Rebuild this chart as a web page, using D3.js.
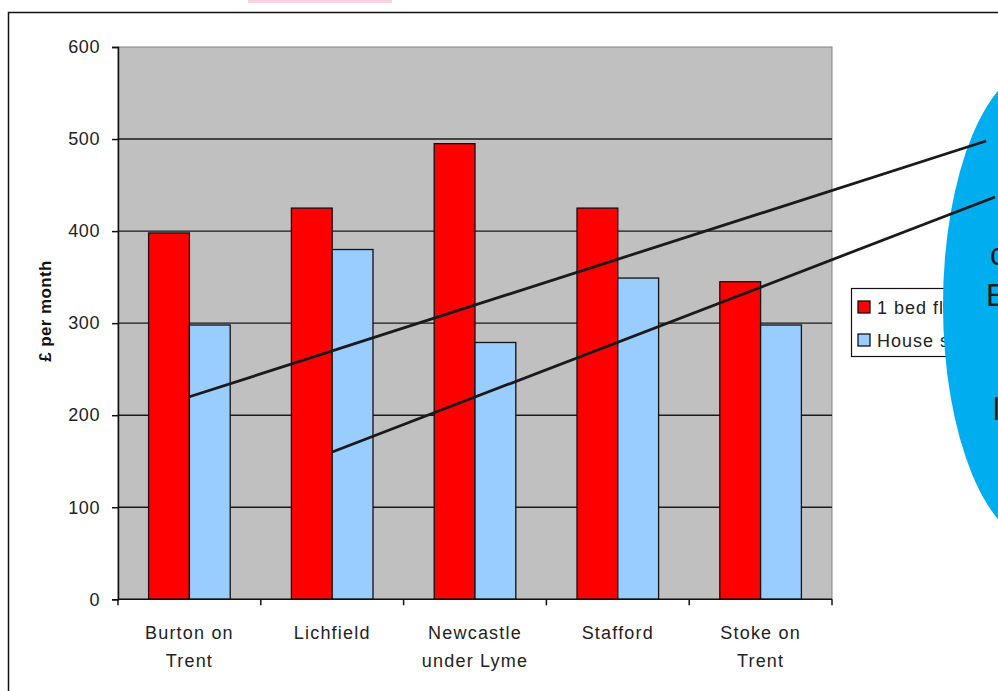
<!DOCTYPE html>
<html>
<head>
<meta charset="utf-8">
<script src="https://cdn.jsdelivr.net/npm/d3@7"></script>
<style>
  body { margin: 0; background: #fff; }
  svg { display: block; font-family: "Liberation Sans", Arial, sans-serif; }
</style>
</head>
<body>
<svg id="chart" width="998" height="691"></svg>
<script>
// data
const towns = ["Burton on Trent", "Lichfield", "Newcastle under Lyme", "Stafford", "Stoke on Trent"];
const townLabels = [["Burton on", "Trent"], ["Lichfield"], ["Newcastle", "under Lyme"], ["Stafford"], ["Stoke on", "Trent"]];
const seriesNames = ["1 bed flat", "House share"];
const flatRent = [398, 425, 495, 425, 345];
const houseShare = [298, 380, 279, 349, 298];
const yTicks = [0, 100, 200, 300, 400, 500, 600];
const colours = ["#ff0000", "#99ccff"];
// callout lines start on a bar (town, value), end inside the bubble
const callouts = [
  { town: "Burton on Trent", value: 220, end: [986, 141] },
  { town: "Lichfield", value: 160, end: [995, 197] }
];
const bubbleLetters = [
  { t: "c", x: 990, y: 265 },
  { t: "E", x: 986, y: 306 },
  { t: "l", x: 993, y: 420 }
];

const svg = d3.select("#chart");
const plot = { left: 118, right: 832, top: 47, bottom: 599.3 };

// pink strip at top
svg.append("rect").attr("x", 248).attr("y", 0).attr("width", 144).attr("height", 3).attr("fill", "#f9d3de");

// chart border
svg.append("rect")
  .attr("x", 8.5).attr("y", 12.5).attr("width", 1100).attr("height", 800)
  .attr("fill", "#fff").attr("stroke", "#111").attr("stroke-width", 1.5);

const x0 = d3.scaleBand().domain(towns).range([plot.left, plot.right]).padding(0);
const x1 = d3.scaleBand().domain(seriesNames).range([0, x0.bandwidth()])
  .paddingInner(0).paddingOuter(0.75);
const y = d3.scaleLinear().domain([0, 600]).range([plot.bottom, plot.top]);

// plot area
svg.append("rect")
  .attr("x", plot.left).attr("y", plot.top)
  .attr("width", plot.right - plot.left).attr("height", plot.bottom - plot.top)
  .attr("fill", "#c0c0c0").attr("stroke", "#808080").attr("stroke-width", 1);

// gridlines
svg.append("g").selectAll("line")
  .data(yTicks.filter(d => d > 0 && d < 600))
  .enter().append("line")
  .attr("x1", plot.left).attr("x2", plot.right)
  .attr("y1", d => y(d)).attr("y2", d => y(d))
  .attr("stroke", "#1a1a1a").attr("stroke-width", 1.4);

// bars
const rows = towns.map((t, i) => ({ town: t, values: [flatRent[i], houseShare[i]] }));
const groups = svg.append("g").selectAll("g")
  .data(rows).enter().append("g")
  .attr("transform", d => `translate(${x0(d.town)},0)`);

groups.selectAll("rect")
  .data(d => d.values.map((v, j) => ({ name: seriesNames[j], value: v, j })))
  .enter().append("rect")
  .attr("x", d => x1(d.name))
  .attr("y", d => y(d.value))
  .attr("width", x1.bandwidth())
  .attr("height", d => y(0) - y(d.value))
  .attr("fill", d => colours[d.j])
  .attr("stroke", "#111").attr("stroke-width", 1.3);

// y axis
const yAxis = svg.append("g")
  .attr("transform", `translate(${plot.left},0)`)
  .call(d3.axisLeft(y).tickValues(yTicks).tickSize(6).tickPadding(12));
yAxis.select(".domain").attr("stroke", "#111").attr("stroke-width", 1.5);
yAxis.selectAll(".tick line").attr("stroke", "#111").attr("stroke-width", 1.5);
yAxis.selectAll(".tick text").attr("font-size", 18).attr("fill", "#222")
  .attr("font-family", "Liberation Sans, Arial, sans-serif").attr("letter-spacing", 0.6);

// y axis title
svg.append("text")
  .attr("transform", "translate(51,311) rotate(-90)")
  .attr("text-anchor", "middle")
  .attr("font-size", 17).attr("font-weight", "bold").attr("fill", "#111")
  .attr("letter-spacing", 0.4)
  .text("£ per month");

// x axis line and boundary ticks
svg.append("line")
  .attr("x1", plot.left).attr("x2", plot.right)
  .attr("y1", y(0)).attr("y2", y(0))
  .attr("stroke", "#111").attr("stroke-width", 1.5);
const bounds = towns.map(t => x0(t)).concat([plot.right]);
svg.append("g").selectAll("line")
  .data(bounds).enter().append("line")
  .attr("x1", d => d).attr("x2", d => d)
  .attr("y1", y(0)).attr("y2", y(0) + 6)
  .attr("stroke", "#111").attr("stroke-width", 1.5);

// x labels
const xl = svg.append("g").selectAll("text")
  .data(towns).enter().append("text")
  .attr("x", d => x0(d) + x0.bandwidth() / 2)
  .attr("y", 639)
  .attr("text-anchor", "middle")
  .attr("font-size", 18).attr("fill", "#222").attr("letter-spacing", 1.2);
xl.selectAll("tspan")
  .data((d, i) => townLabels[i])
  .enter().append("tspan")
  .attr("x", function() { return d3.select(this.parentNode).attr("x"); })
  .attr("dy", (d, i) => i === 0 ? 0 : 28)
  .text(d => d);

// legend
const legend = svg.append("g").attr("transform", "translate(851,288)");
legend.append("rect").attr("x", 0.5).attr("y", 0.5).attr("width", 160).attr("height", 68)
  .attr("fill", "#fff").attr("stroke", "#111").attr("stroke-width", 1.2);
seriesNames.forEach((name, i) => {
  legend.append("rect")
    .attr("x", 7).attr("y", 13 + i * 33).attr("width", 12).attr("height", 12)
    .attr("fill", colours[i]).attr("stroke", "#111").attr("stroke-width", 1.3);
  legend.append("text")
    .attr("x", 26).attr("y", 26 + i * 33)
    .attr("font-size", 18).attr("fill", "#222").attr("letter-spacing", 1)
    .text(name);
});

// speech bubble on the right
svg.append("ellipse")
  .attr("cx", 1043).attr("cy", 305).attr("rx", 100).attr("ry", 240)
  .attr("fill", "#00aeef");
svg.append("g").selectAll("text")
  .data(bubbleLetters).enter().append("text")
  .attr("x", d => d.x).attr("y", d => d.y)
  .attr("font-size", 31).attr("fill", "#1a1a1a")
  .text(d => d.t);

// callout lines from the bars
svg.append("g").selectAll("line")
  .data(callouts).enter().append("line")
  .attr("x1", d => x0(d.town) + x1(seriesNames[1]))
  .attr("y1", d => y(d.value))
  .attr("x2", d => d.end[0]).attr("y2", d => d.end[1])
  .attr("stroke", "#1a1a1a").attr("stroke-width", 2.8);
</script>
</body>
</html>
